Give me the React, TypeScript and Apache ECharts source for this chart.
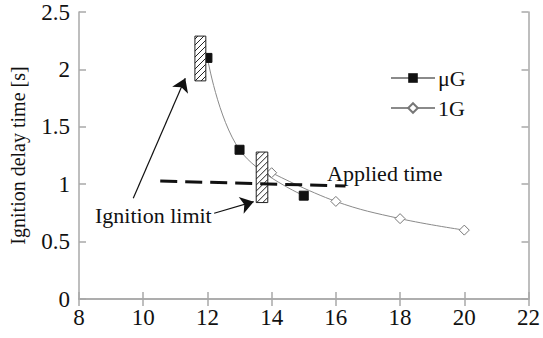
import React, { useEffect, useRef } from "react";
import * as echarts from "echarts";

const xTicks = { min: 8, max: 22, interval: 2 };
const yTicks = { min: 0, max: 2.5, interval: 0.5 };

const microG: [number, number][] = [
  [12, 2.1],
  [13, 1.3],
  [15, 0.9],
];
const oneG: [number, number][] = [
  [14, 1.1],
  [16, 0.85],
  [18, 0.7],
  [20, 0.6],
];
// ignition limit ranges: [xStart, xEnd, yLow, yHigh]
const ignitionLimits: [number, number, number, number][] = [
  [11.61, 11.95, 1.9, 2.29],
  [13.52, 13.88, 0.84, 1.28],
];
const appliedTime: [number, number][] = [
  [10.53, 1.028],
  [16.3, 0.984],
];
const arrows: [number, number][][] = [
  [
    [9.69, 0.877],
    [11.31, 1.922],
  ],
  [
    [12.21, 0.747],
    [13.44, 0.848],
  ],
];

const FONT = "Liberation Serif";
const AXIS_COLOR = "#a8a8a8";

export default function App() {
  const ref = useRef<HTMLDivElement>(null);
  useEffect(() => {
    if (!ref.current) return;
    const chart = echarts.init(ref.current, undefined, { renderer: "svg" });
    const axisCommon = {
      axisLine: { show: true, lineStyle: { color: AXIS_COLOR, width: 1.5 } },
      axisTick: { show: true, inside: true, length: 7, lineStyle: { color: AXIS_COLOR, width: 1.5 } },
      splitLine: { show: false },
    };
    chart.setOption({
      animation: false,
      backgroundColor: "#fff",
      textStyle: { fontFamily: FONT },
      grid: { left: 78, right: 10, top: 12, bottom: 39, containLabel: false },
      xAxis: [
        {
          type: "value",
          ...xTicks,
          position: "bottom",
          ...axisCommon,
          axisLabel: { color: "#111", fontSize: 23, fontFamily: FONT, margin: 7 },
        },
        {
          type: "value",
          ...xTicks,
          position: "top",
          ...axisCommon,
          axisLabel: { show: false },
        },
      ],
      yAxis: [
        {
          type: "value",
          ...yTicks,
          position: "left",
          ...axisCommon,
          name: "Ignition delay time [s]",
          nameLocation: "middle",
          nameGap: 51,
          nameTextStyle: { color: "#111", fontSize: 20, fontFamily: FONT },
          axisLabel: { color: "#111", fontSize: 23, fontFamily: FONT, margin: 9 },
        },
        {
          type: "value",
          ...yTicks,
          position: "right",
          ...axisCommon,
          axisLabel: { show: false },
        },
      ],
      legend: {
        orient: "vertical",
        left: 385,
        top: 62,
        itemWidth: 44,
        itemHeight: 12,
        itemGap: 8,
        textStyle: { fontSize: 22, fontFamily: FONT, color: "#111", padding: [0, 0, 0, -2] },
        data: ["μG", "1G"],
      },
      series: [
        {
          name: "μG",
          type: "line",
          data: microG,
          smooth: 0.4,
          symbol: "rect",
          symbolSize: 9,
          itemStyle: { color: "#111", borderColor: "#111" },
          lineStyle: { color: "#8a8a8a", width: 1 },
          z: 2,
        },
        {
          name: "1G",
          type: "line",
          data: oneG,
          smooth: 0.4,
          symbol: "diamond",
          symbolSize: 10,
          itemStyle: { color: "#fff", borderColor: "#777", borderWidth: 1 },
          lineStyle: { color: "#8a8a8a", width: 1 },
          z: 2,
        },
        {
          type: "custom",
          data: ignitionLimits,
          z: 3,
          renderItem: (params: any, api: any) => {
            const p0 = api.coord([api.value(0), api.value(3)]);
            const p1 = api.coord([api.value(1), api.value(2)]);
            const L = p0[0], T = p0[1], R = p1[0], B = p1[1];
            const children: any[] = [
              {
                type: "rect",
                shape: { x: L, y: T, width: R - L, height: B - T },
                style: { fill: "#fff", stroke: "#222", lineWidth: 1 },
              },
            ];
            const step = 6;
            for (let c = L + T + step / 2; c < R + B; c += step) {
              const xa = Math.max(L, c - B);
              const xb = Math.min(R, c - T);
              if (xb <= xa) continue;
              children.push({
                type: "line",
                shape: { x1: xa, y1: c - xa, x2: xb, y2: c - xb },
                style: { stroke: "#222", lineWidth: 1 },
              });
            }
            return { type: "group", children };
          },
        },
        {
          type: "line",
          data: appliedTime,
          symbol: "none",
          lineStyle: { color: "#111", width: 3, type: [17, 8] },
          z: 4,
        },
        {
          type: "lines",
          coordinateSystem: "cartesian2d",
          symbol: ["none", "arrow"],
          symbolSize: [8, 13],
          lineStyle: { color: "#111", width: 1.2, opacity: 1, curveness: 0 },
          data: arrows.map((c) => ({ coords: c })),
          z: 4,
        },
      ],
      graphic: [
        {
          type: "text",
          left: 327,
          top: 162,
          style: { text: "Applied time", fontSize: 22, fontFamily: FONT, fill: "#111" },
          z: 10,
        },
        {
          type: "text",
          left: 95,
          top: 204,
          style: { text: "Ignition limit", fontSize: 22, fontFamily: FONT, fill: "#111" },
          z: 10,
        },
      ],
    });
    return () => chart.dispose();
  }, []);
  return (
    <div
      ref={ref}
      style={{ position: "fixed", left: 0, top: 0, width: 543, height: 338, background: "#fff" }}
    />
  );
}
